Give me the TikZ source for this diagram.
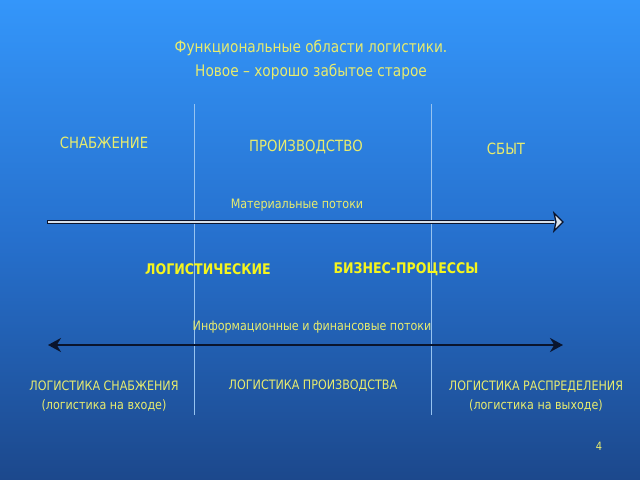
\documentclass[tikz,border=0pt]{standalone}
\usepackage{fontspec}
\setmainfont{DejaVu Sans}[FakeStretch=0.86]
\usetikzlibrary{arrows.meta}
\definecolor{bgtop}{RGB}{52,150,250}
\definecolor{bgmid}{RGB}{38,112,205}
\definecolor{bgbot}{RGB}{28,72,140}
\definecolor{txt}{RGB}{232,236,110}
\definecolor{bold}{RGB}{245,245,30}
\definecolor{vline}{RGB}{150,195,240}
\definecolor{dark}{RGB}{10,20,45}
\definecolor{light}{RGB}{215,225,235}
\tikzset{
  lbl/.style={text=txt, inner sep=0pt, anchor=center, font=\fontsize{13}{15}\selectfont},
  head/.style={lbl, font=\fontsize{16}{19}\selectfont},
  big/.style={lbl, font=\fontsize{15.5}{18}\selectfont},
  strong/.style={lbl, text=bold, font=\bfseries\fontsize{14.7}{17}\selectfont},
  divider/.style={draw=vline, line width=0.8pt},
  infoarrow/.style={draw=dark, line width=2.2pt, {Stealth[length=13pt,width=14pt]}-{Stealth[length=13pt,width=14pt]}},
}
\begin{document}
\begin{tikzpicture}[x=1bp,y=1bp]
\shade[top color=bgtop, bottom color=bgbot, middle color=bgmid] (0,0) rectangle (640,-480);
\useasboundingbox (0,0) rectangle (640,-480);
% dividers
\coordinate (d1t) at (194,-104); \coordinate (d1b) at (194,-415);
\coordinate (d2t) at (431,-104); \coordinate (d2b) at (431,-415);
\draw[divider] (d1t) -- (d1b);
\draw[divider] (d2t) -- (d2b);
% title
\node[head] (t1) at (311,-47.5) {Функциональные области логистики.};
\node[head] (t2) at (311,-71.5) {Новое – хорошо забытое старое};
% columns
\node[big] (c1) at (104,-143) {СНАБЖЕНИЕ};
\node[big] (c2) at (306,-147) {ПРОИЗВОДСТВО};
\node[big] (c3) at (506,-149) {СБЫТ};
% material flow
\node[lbl] (mat) at (297,-205.5) {Материальные потоки};
\coordinate (ma) at (47,-222);
\coordinate (mb) at (563,-222);
\coordinate (mh) at (554,-222);
\draw[dark, line width=4pt] (ma) -- (mh);
\draw[light, line width=1.5pt] ([xshift=1bp]ma) -- ([xshift=1bp]mh);
\filldraw[fill=light, draw=dark, line width=1.3pt, line join=miter] ([xshift=-9bp,yshift=9bp]mb) -- (mb) -- ([xshift=-9bp,yshift=-9bp]mb) -- ([xshift=-7bp]mb) -- cycle;
% business processes
\node[strong] (b1) at (208,-269) {ЛОГИСТИЧЕСКИЕ};
\node[strong] (b2) at (406,-269) {БИЗНЕС-ПРОЦЕССЫ};
% info flow
\node[lbl] (inf) at (312,-327) {Информационные и финансовые потоки};
\coordinate (ia) at (48,-345);
\coordinate (ib) at (563,-345);
\draw[infoarrow] (ia) -- (ib);
% bottom
\node[lbl, align=center] (l1) at (104,-396) {ЛОГИСТИКА СНАБЖЕНИЯ\\[4bp](логистика на входе)};
\node[lbl] (l2) at (313,-386) {ЛОГИСТИКА ПРОИЗВОДСТВА};
\node[lbl, align=center] (l3) at (536,-396) {ЛОГИСТИКА РАСПРЕДЕЛЕНИЯ\\[4bp](логистика на выходе)};
\node[lbl, font=\fontsize{11.5}{13}\selectfont] (pg) at (599,-446) {4};
\end{tikzpicture}
\end{document}
